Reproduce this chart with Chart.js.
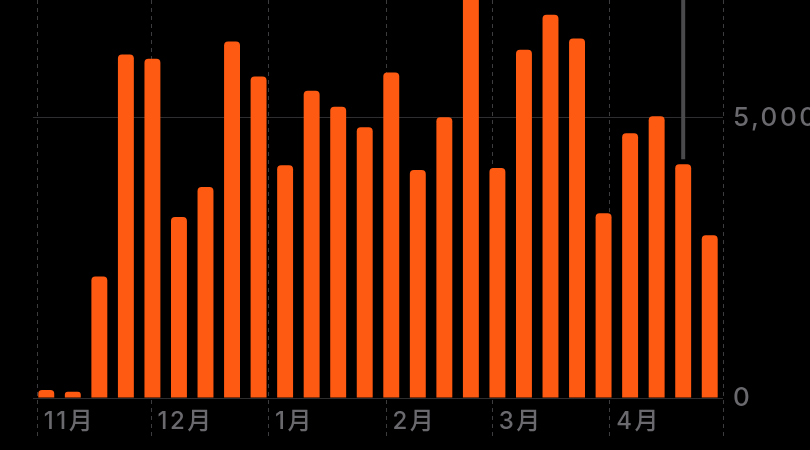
<!DOCTYPE html>
<html>
<head>
<meta charset="utf-8">
<script src="https://cdn.jsdelivr.net/npm/chart.js@4/dist/chart.umd.min.js"></script>
<style>
  html, body { margin: 0; padding: 0; background: #000; }
  #wrap { width: 810px; height: 450px; position: relative; }
</style>
</head>
<body>
<div id="wrap"><canvas id="c"></canvas></div>
<script>
// Weekly categories (week starting dates)
const weeks = ['10/31','11/7','11/14','11/21','11/28','12/5','12/12','12/19','12/26',
  '1/2','1/9','1/16','1/23','1/30','2/6','2/13','2/20','2/27','3/6','3/13','3/20',
  '3/27','4/3','4/10','4/17','4/24'];
// Weekly values
const values = [143, 113, 2166, 6128, 6051, 3228, 3765, 6361, 5734, 4153, 5483, 5197,
  4828, 5806, 4069, 5007, 7400, 4105, 6212, 6838, 6414, 3294, 4721, 5025, 4171, 2905];
// Month boundaries (day offset from first week start) and their labels
const monthDays = [1, 31, 62, 93, 121, 152, 182];
const monthLabels = ['11月', '12月', '1月', '2月', '3月', '4月', ''];
const daysPerWeek = 7;
// Y axis ticks
const yTicks = [0, 5000];
const yMax = 7100;
// Highlighted week
const selectedIndex = 24;

const FONT = "Inter, 'Noto Sans CJK JP', sans-serif";
const TEXT_COLOR = '#69696e';
const LETTER_SPACING = '2.5px';

const spacingPlugin = {
  id: 'spacing',
  beforeDraw(chart) { chart.ctx.letterSpacing = LETTER_SPACING; }
};

// Month boundary lines + labels, positioned through the category scale
const monthAxis = {
  id: 'monthAxis',
  beforeDatasetsDraw(chart) {
    const xs = chart.scales.x;
    const area = chart.chartArea;
    const ctx = chart.ctx;
    ctx.save();
    ctx.strokeStyle = '#3c3c3e';
    ctx.lineWidth = 1;
    ctx.setLineDash([4, 4]);
    monthDays.forEach((d) => {
      const x = Math.round(xs.getPixelForValue(d / daysPerWeek - 0.5)) + 0.5;
      ctx.beginPath();
      ctx.moveTo(x, area.top);
      ctx.lineTo(x, area.bottom + 40);
      ctx.stroke();
    });
    ctx.setLineDash([]);
    ctx.fillStyle = TEXT_COLOR;
    ctx.font = "500 24px " + FONT;
    ctx.textAlign = 'left';
    ctx.textBaseline = 'middle';
    ctx.letterSpacing = LETTER_SPACING;
    monthDays.forEach((d, i) => {
      if (!monthLabels[i]) return;
      const x = xs.getPixelForValue(d / daysPerWeek - 0.5);
      ctx.fillText(monthLabels[i], x + 7, area.bottom + 24);
    });
    ctx.restore();
  }
};

const selectionLine = {
  id: 'selectionLine',
  beforeDatasetsDraw(chart) {
    const xs = chart.scales.x, ys = chart.scales.y;
    const x = xs.getPixelForValue(selectedIndex);
    const yb = ys.getPixelForValue(values[selectedIndex]) - 5;
    const ctx = chart.ctx;
    ctx.save();
    ctx.strokeStyle = '#4a4a4c';
    ctx.lineWidth = 4;
    ctx.beginPath();
    ctx.moveTo(x, chart.chartArea.top);
    ctx.lineTo(x, yb);
    ctx.stroke();
    ctx.restore();
  }
};

new Chart(document.getElementById('c'), {
  type: 'bar',
  data: {
    labels: weeks,
    datasets: [{
      data: values,
      backgroundColor: '#FF5A12',
      borderRadius: 4,
      borderSkipped: 'start',
      barPercentage: 0.6,
      categoryPercentage: 1.0
    }]
  },
  options: {
    responsive: true,
    maintainAspectRatio: false,
    animation: false,
    layout: { padding: { left: 33, top: 0, right: 0, bottom: 52 } },
    plugins: { legend: { display: false }, tooltip: { enabled: false } },
    scales: {
      x: {
        type: 'category',
        display: false,
        offset: true
      },
      y: {
        position: 'right',
        min: 0,
        max: yMax,
        afterBuildTicks(scale) {
          scale.ticks = yTicks.map(v => ({ value: v }));
        },
        afterFit(scale) {
          scale.width = 87;
          scale.paddingTop = 0;
          scale.paddingBottom = 0;
        },
        grid: { color: '#2e2e30', lineWidth: 1, drawTicks: false },
        border: { display: false },
        ticks: {
          padding: 10,
          color: TEXT_COLOR,
          font: { family: FONT, size: 26, weight: '500' },
          callback(v) { return v.toLocaleString('en-US'); }
        }
      }
    }
  },
  plugins: [spacingPlugin, monthAxis, selectionLine]
});
</script>
</body>
</html>
